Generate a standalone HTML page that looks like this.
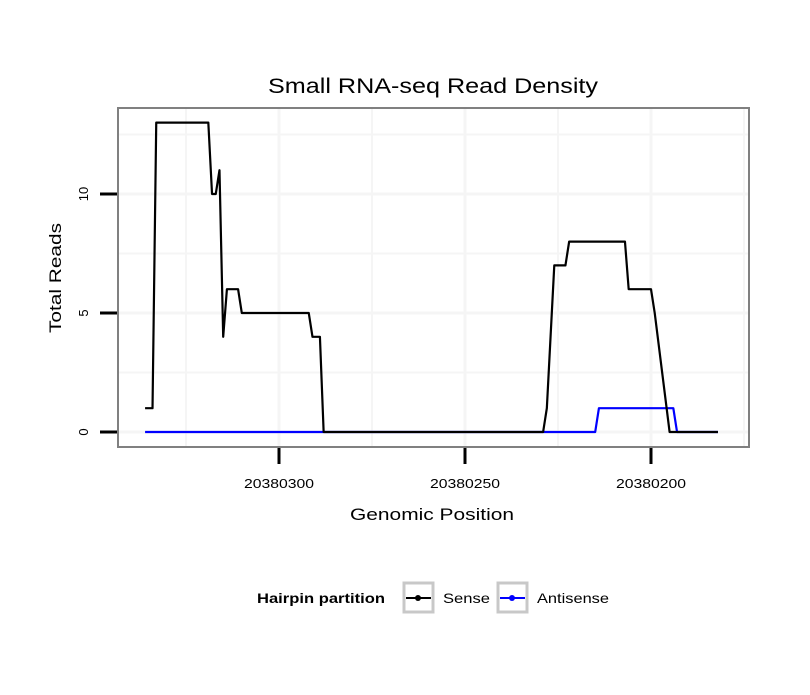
<!DOCTYPE html>
<html><head><meta charset="utf-8"><style>body{margin:0;background:#fff}svg{font-family:"Liberation Sans",sans-serif}</style></head>
<body>
<svg width="810" height="690">
<text x="433" y="93" text-anchor="middle" font-size="21" textLength="330" lengthAdjust="spacingAndGlyphs">Small RNA-seq Read Density</text>
<g id="grid"></g><g id="series"></g><g id="axes"></g>
<rect x="118" y="108" width="631" height="339" fill="none" stroke="#808080" stroke-width="2"/>
<text x="432" y="520" text-anchor="middle" font-size="17" textLength="164" lengthAdjust="spacingAndGlyphs">Genomic Position</text>
<text transform="translate(61,278) rotate(-90)" text-anchor="middle" font-size="17" textLength="110" lengthAdjust="spacingAndGlyphs">Total Reads</text>
<g>
<text x="257" y="603" font-size="14" font-weight="bold" textLength="128" lengthAdjust="spacingAndGlyphs">Hairpin partition</text>
<g><rect x="404" y="583" width="29" height="29" fill="#fff" stroke="#c8c8c8" stroke-width="3"/><line x1="406" y1="598" x2="431" y2="598" stroke="#000" stroke-width="2"/><circle cx="418" cy="598" r="3" fill="#000"/><text x="443" y="603" font-size="14" textLength="47" lengthAdjust="spacingAndGlyphs">Sense</text></g>
<g><rect x="498" y="583" width="29" height="29" fill="#fff" stroke="#c8c8c8" stroke-width="3"/><line x1="500" y1="598" x2="525" y2="598" stroke="#00f" stroke-width="2"/><circle cx="512" cy="598" r="3" fill="#00f"/><text x="537" y="603" font-size="14" textLength="72" lengthAdjust="spacingAndGlyphs">Antisense</text></g>
</g>
</svg>
<script>
const senseX=[20380336,20380334,20380333,20380319,20380318,20380317,20380316,20380315,20380314,20380311,20380310,20380292,20380291,20380289,20380288,20380229,20380228,20380226,20380223,20380222,20380207,20380206,20380200,20380199,20380195,20380182];
const senseY=[1,1,13,13,10,10,11,4,6,6,5,5,4,4,0,0,1,7,7,8,8,6,6,5,0,0];
const antiX=[20380336,20380215,20380214,20380194,20380193,20380182];
const antiY=[0,0,1,1,0,0];
const xTicks=[20380300,20380250,20380200];
const yTicks=[0,5,10];
const NS="http://www.w3.org/2000/svg";
function sx(p){return 279+(20380300-p)*3.72;}
function sy(v){return 432-v*23.8;}
function mk(tag,attrs,parent){const e=document.createElementNS(NS,tag);for(const k in attrs)e.setAttribute(k,attrs[k]);parent.appendChild(e);return e;}
const grid=document.getElementById('grid'),ser=document.getElementById('series'),ax=document.getElementById('axes');
mk('rect',{x:118,y:108,width:631,height:339,fill:'#fff'},grid);
for(let p=20380325;p>=20380175;p-=25){const x=sx(p);if(x<119||x>748)continue;const l=mk('line',{x1:x,x2:x,y1:109,y2:446,stroke:'#f5f5f5','stroke-width':(p%50===0)?3:2},grid);

}
for(let v=0;v<=12.5;v+=2.5){const y=sy(v);const l=mk('line',{x1:119,x2:748,y1:y,y2:y,stroke:'#f5f5f5','stroke-width':(v%5===0)?3:2},grid);

}
function line(xs,ys,col,name){const d=xs.map((p,i)=>(i?'L':'M')+sx(p)+','+sy(ys[i])).join(' ');const e=mk('path',{d:d,fill:'none',stroke:col,'stroke-width':2.2,'stroke-linejoin':'round'},ser);

}
line(antiX,antiY,'#00f','antisense-line');
line(senseX,senseY,'#000','sense-line');
xTicks.forEach(p=>{const x=sx(p);mk('line',{x1:x,x2:x,y1:448,y2:464,stroke:'#000','stroke-width':3},ax);const t=mk('text',{x:x,y:488,'text-anchor':'middle','font-size':13,textLength:70,lengthAdjust:'spacingAndGlyphs'},ax);t.textContent=p;

});
yTicks.forEach(v=>{const y=sy(v);mk('line',{x1:100,x2:117,y1:y,y2:y,stroke:'#000','stroke-width':3},ax);const t=mk('text',{transform:`translate(88,${y}) rotate(-90)`,'text-anchor':'middle','font-size':13},ax);t.textContent=v;

});
</script>
</body></html>
